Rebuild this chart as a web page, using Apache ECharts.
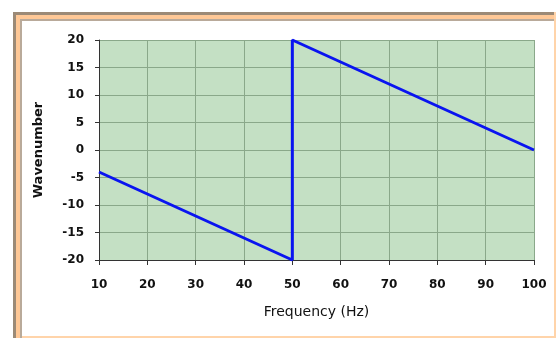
<!DOCTYPE html>
<html><head><meta charset="utf-8">
<script src="https://cdn.jsdelivr.net/npm/echarts@6/dist/echarts.min.js"></script>
<style>html,body{margin:0;padding:0;background:#fff}#c{width:557px;height:340px}</style>
</head><body><div id="c"></div>
<script>
const freq = [10, 20, 30, 40, 50, 50, 60, 70, 80, 90, 100];
const wavenumber = [-4, -8, -12, -16, -20, 20, 16, 12, 8, 4, 0];

const chart = echarts.init(document.getElementById('c'), null, {renderer: 'canvas'});
const lbl = {color: '#111', fontFamily: 'DejaVu Sans', fontSize: 12, fontWeight: 'bold'};
chart.setOption({
  animation: false,
  graphic: [
    {type: 'rect', z: -10, shape: {x: 14, y: 13, width: 541, height: 324}, style: {fill: '#ffffff', stroke: '#ffd4aa', lineWidth: 2}},
    {type: 'rect', z: -9, shape: {x: 13, y: 12, width: 541, height: 3}, style: {fill: '#9c8a76'}},
    {type: 'rect', z: -9, shape: {x: 15, y: 15, width: 539, height: 4}, style: {fill: '#ffc896'}},
    {type: 'rect', z: -9, shape: {x: 19, y: 19, width: 535, height: 2}, style: {fill: '#b9aa9a'}},
    {type: 'rect', z: -9, shape: {x: 13, y: 12, width: 3, height: 326}, style: {fill: '#9c8a76'}},
    {type: 'rect', z: -9, shape: {x: 16, y: 15, width: 4, height: 323}, style: {fill: '#ffc896'}},
    {type: 'rect', z: -9, shape: {x: 20, y: 19, width: 2, height: 319}, style: {fill: '#b9aa9a'}}
  ],
  grid: {left: 99, right: 23, top: 40, bottom: 80, show: true, backgroundColor: '#c4e0c4', borderWidth: 0},
  xAxis: {
    type: 'value', min: 10, max: 100, interval: 10,
    name: 'Frequency (Hz)', nameLocation: 'middle', nameGap: 45,
    nameTextStyle: {color: '#111', fontFamily: 'DejaVu Sans', fontSize: 14},
    axisLine: {show: true, onZero: false, lineStyle: {color: '#333', width: 1}},
    axisTick: {show: true, length: 5, lineStyle: {color: '#333'}},
    axisLabel: Object.assign({margin: 19}, lbl),
    splitLine: {show: true, lineStyle: {color: '#8aa88a', width: 1}}
  },
  yAxis: {
    type: 'value', min: -20, max: 20, interval: 5,
    name: 'Wavenumber', nameLocation: 'middle', nameGap: 54, nameRotate: 90,
    nameTextStyle: {color: '#111', fontFamily: 'DejaVu Sans', fontSize: 13, fontWeight: 'bold'},
    axisLine: {show: true, onZero: false, lineStyle: {color: '#333', width: 1}},
    axisTick: {show: true, length: 4, lineStyle: {color: '#333'}},
    axisLabel: Object.assign({margin: 15}, lbl),
    splitLine: {show: true, lineStyle: {color: '#8aa88a', width: 1}}
  },
  series: [{
    type: 'line',
    data: freq.map((f, i) => [f, wavenumber[i]]),
    showSymbol: false,
    lineStyle: {color: '#0a14f0', width: 3},
    clip: false
  }]
});
</script></body></html>
